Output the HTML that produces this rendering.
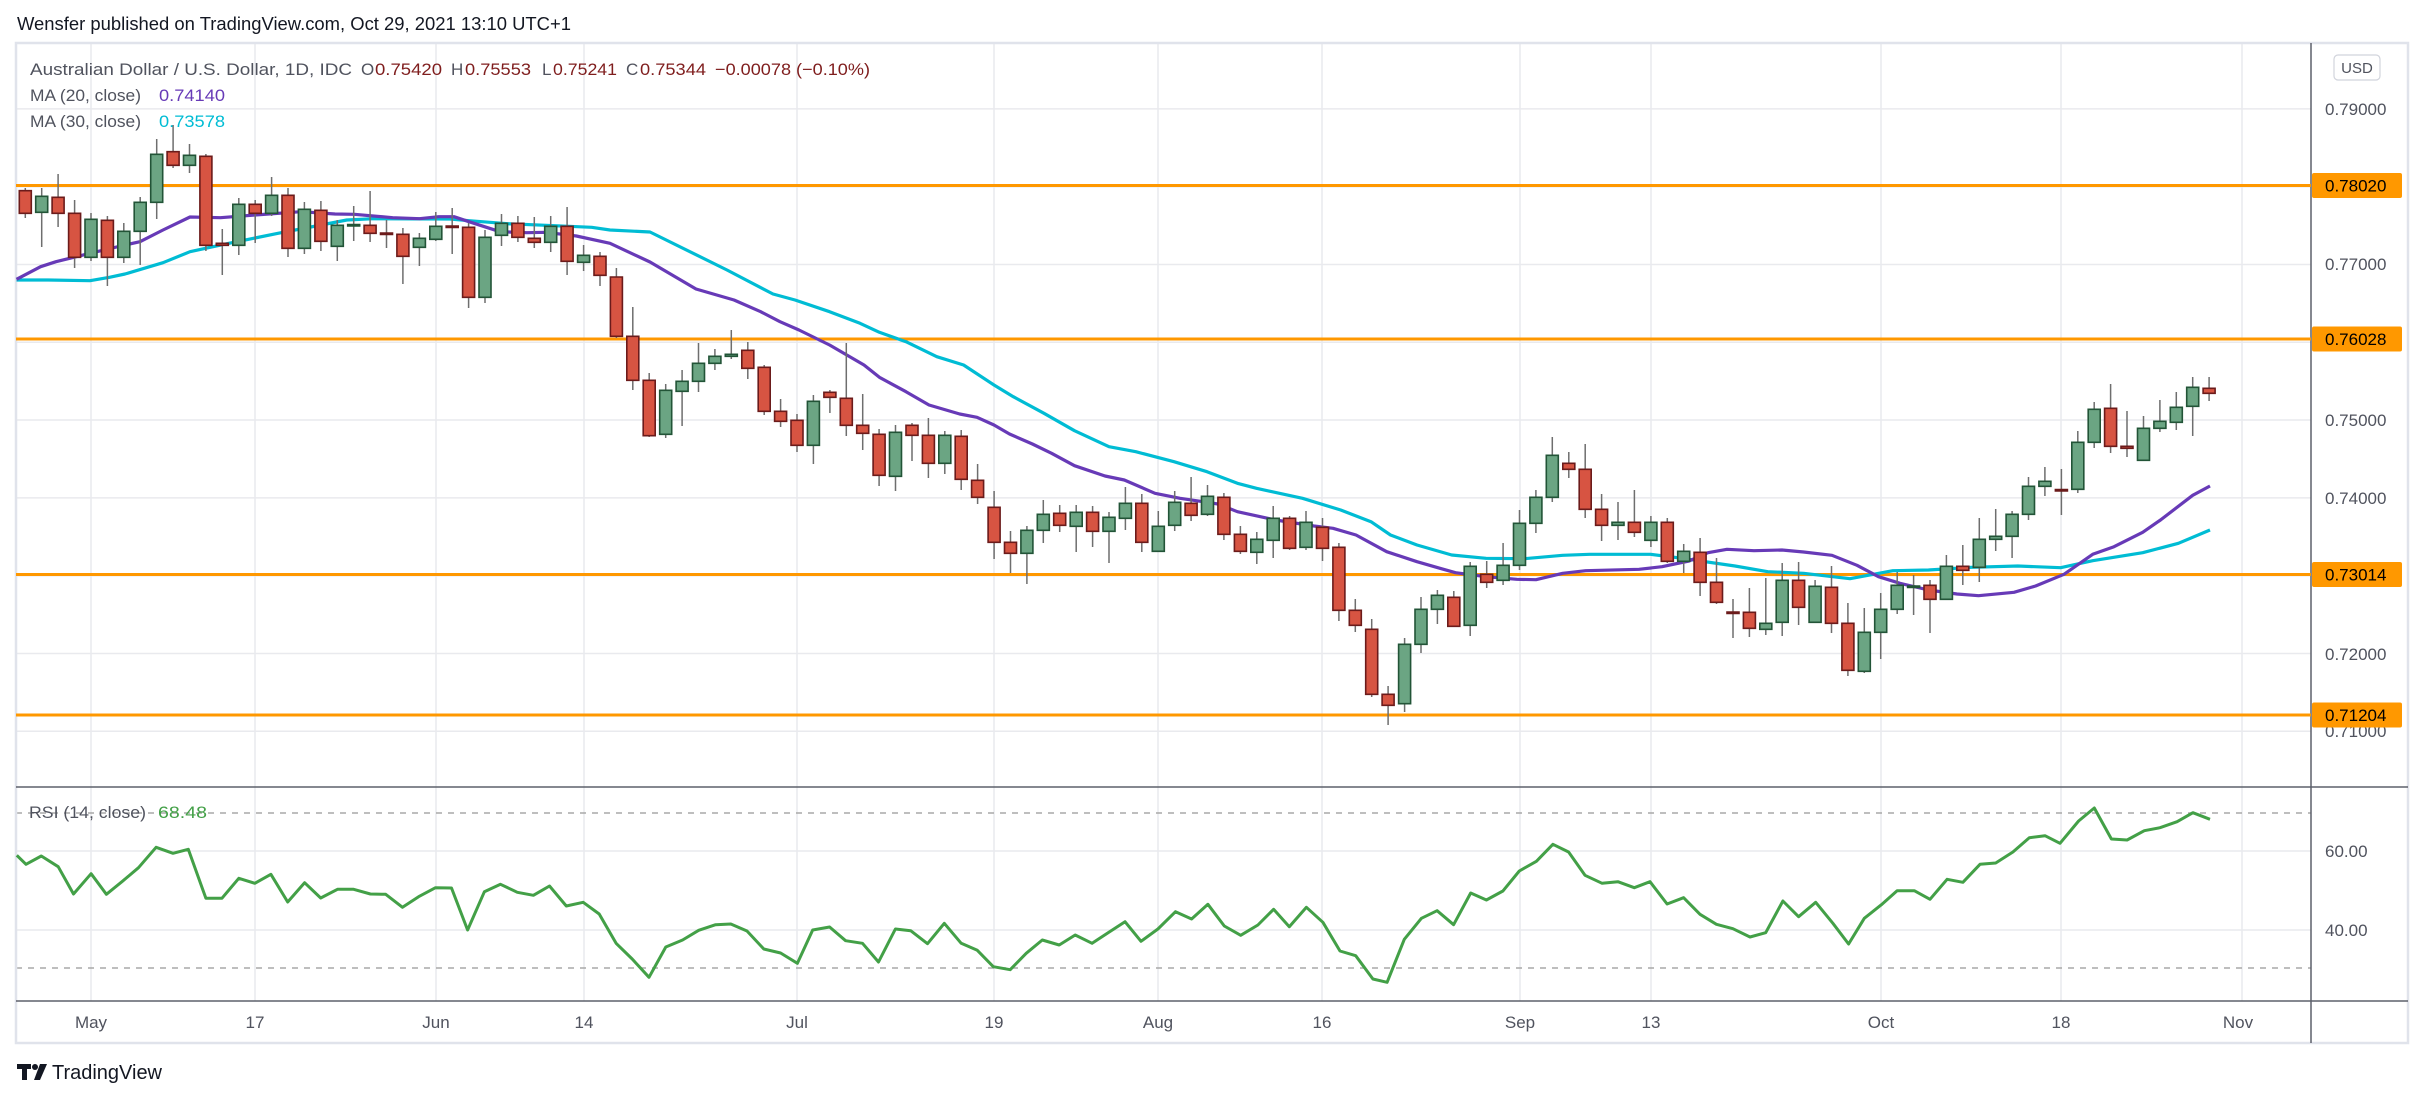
<!DOCTYPE html>
<html><head><meta charset="utf-8"><style>
html,body{margin:0;padding:0;background:#fff;}
svg{display:block;font-family:"Liberation Sans",sans-serif;}
</style></head><body>
<svg width="2425" height="1099" viewBox="0 0 2425 1099" xmlns="http://www.w3.org/2000/svg">
<rect width="2425" height="1099" fill="#fff"/>
<text x="17" y="30" font-size="18" fill="#131722" textLength="554" lengthAdjust="spacingAndGlyphs">Wensfer published on TradingView.com, Oct 29, 2021 13:10 UTC+1</text>
<g stroke="#e9eaee" stroke-width="1.5">
<line x1="16" x2="2311" y1="108.9" y2="108.9"/><line x1="16" x2="2311" y1="186.7" y2="186.7"/><line x1="16" x2="2311" y1="264.5" y2="264.5"/><line x1="16" x2="2311" y1="342.3" y2="342.3"/><line x1="16" x2="2311" y1="420" y2="420"/><line x1="16" x2="2311" y1="497.9" y2="497.9"/><line x1="16" x2="2311" y1="575.7" y2="575.7"/><line x1="16" x2="2311" y1="653.5" y2="653.5"/><line x1="16" x2="2311" y1="731.3" y2="731.3"/>
<line x1="16" x2="2311" y1="851" y2="851"/><line x1="16" x2="2311" y1="930" y2="930"/>
<line x1="91" x2="91" y1="43" y2="1001"/><line x1="255" x2="255" y1="43" y2="1001"/><line x1="436" x2="436" y1="43" y2="1001"/><line x1="584" x2="584" y1="43" y2="1001"/><line x1="797" x2="797" y1="43" y2="1001"/><line x1="994" x2="994" y1="43" y2="1001"/><line x1="1158" x2="1158" y1="43" y2="1001"/><line x1="1322" x2="1322" y1="43" y2="1001"/><line x1="1520" x2="1520" y1="43" y2="1001"/><line x1="1651" x2="1651" y1="43" y2="1001"/><line x1="1881" x2="1881" y1="43" y2="1001"/><line x1="2061" x2="2061" y1="43" y2="1001"/><line x1="2242" x2="2242" y1="43" y2="1001"/>
</g>
<g stroke="#a8a8a8" stroke-width="1.5" stroke-dasharray="6,6"><line x1="16" x2="2311" y1="813" y2="813"/><line x1="16" x2="2311" y1="968" y2="968"/></g>
<rect x="16" y="43" width="2392" height="1000" fill="none" stroke="#e0e3eb" stroke-width="2.5"/>
<line x1="2311" x2="2311" y1="43" y2="1043" stroke="#5d606b" stroke-width="1.5"/>
<line x1="16" x2="2408" y1="787" y2="787" stroke="#5d606b" stroke-width="1.5"/>
<line x1="16" x2="2408" y1="1001" y2="1001" stroke="#5d606b" stroke-width="1.5"/>
<g stroke="#ff9800" stroke-width="3"><line x1="16" x2="2311" y1="185.5" y2="185.5"/><line x1="16" x2="2311" y1="339" y2="339"/><line x1="16" x2="2311" y1="574.5" y2="574.5"/><line x1="16" x2="2311" y1="715" y2="715"/></g>
<polyline fill="none" stroke="#00bcd4" stroke-width="3.2" stroke-linejoin="round" points="16.5,280 48,280 90,280.7 109.5,277.3 125,274 163,262.7 190,251.7 224,244.3 278,233.3 316,226 346.8,220 373.6,218.7 450,219 469,220.7 507.5,223.7 546,225.3 591.7,227.3 610,230 650,232 727,270 773,294 795,300 829.6,311.7 860,323.3 879.4,332.3 906,341.7 936.8,356.7 963.6,365 994,385 1013.3,396.7 1044,413.3 1074.5,430.7 1109,446.7 1135.8,451.7 1174,461.7 1207,471.7 1237.4,483.3 1256.5,488.3 1302.5,498.3 1340.7,510 1371,521.7 1390.5,535 1417,545 1451.7,555 1486,558.3 1524.4,558.7 1562.7,555.3 1589.5,554.3 1650.7,554.3 1677.5,557.7 1735,566 1767.8,571.7 1803.6,573.3 1850,578.7 1892.8,570.7 1928.5,570 1971.3,567.3 2017.8,566 2060.6,567.7 2092.7,560.7 2142.7,552.7 2178.4,543.3 2210,530"/>
<polyline fill="none" stroke="#673ab7" stroke-width="3.2" stroke-linejoin="round" points="16.5,279.3 40.6,266.7 56,261.7 90,253.3 125,245 140,241.7 163,230 190,217 220.5,217.7 255,215 301,211.7 335,214 354.4,214.3 392.7,217.7 419.5,218.7 438.6,216.7 454,216.7 469,221.7 500,231.7 526.6,232.7 545.8,232.3 576.4,236 610,243.3 650,262 696,289 734,300 760.7,311.7 780,321.7 799,330 829.6,345 864,365 879.4,377.3 906,391.7 929,405 959.7,414 977,417.3 994,425 1009.5,434 1032.4,444 1051.6,453.3 1074.5,465.7 1105,476 1124.3,480 1155,493.3 1180,498.3 1203,501.7 1218,504 1237.4,511.7 1275.7,520 1314,526 1333,528.3 1356,535 1386.7,551.7 1417,561.7 1440,568.3 1455.5,572.7 1486,576.7 1516.8,579.3 1536,579.7 1562.7,573.3 1585.7,570.7 1639,569.3 1662,566.7 1689,561 1708,552.7 1727,549.3 1754,550.7 1782,550 1803.6,552 1832,555.3 1857,565.3 1878.5,576.7 1900,583.3 1928.5,590 1957,594 1978.5,595.7 2014,592.3 2035.6,586 2064,574.3 2092.7,554.3 2114,546.7 2142.7,532.3 2160.5,520 2192.7,495.3 2210,486"/>
<path stroke="#6e6e6e" stroke-width="1.5" fill="none" d="M25.3 188V218M41.7 188V247M58.1 174V227M74.6 200V268M91 213V261M107.4 216V286M123.8 223V263M140.2 197V265M156.7 139V219M173.1 125V168M189.5 144V173M205.9 154V251M222.3 229V275M238.8 198V255M255.2 200V243M271.6 177V216M288 188V257M304.4 202V254M320.9 201V251M337.3 220V261M353.7 206V241M370.1 191V242M386.5 220V248M402.9 228V284M419.4 233V266M435.8 212V241M452.2 208V254M468.6 223V308M485 230V303M501.5 214V246M517.9 216V242M534.3 217V248M550.7 216V252M567.1 207V275M583.6 245V271M600 252V286M616.4 268V338M632.8 307V390M649.2 373V437M665.7 384V438M682.1 370V426M698.5 343V392M714.9 349V370M731.3 330V359M747.8 342V379M764.2 365V415M780.6 399V427M797 414V452M813.4 395V464M829.9 390V413M846.3 343V436M862.7 394V450M879.1 429V486M895.5 425V491M912 423V461M928.4 418V478M944.8 431V474M961.2 430V490M977.6 464V504M994.1 491V559M1010.5 531V573M1026.9 526V584M1043.3 500V543M1059.7 505V532M1076.2 505V552M1092.6 506V547M1109 512V563M1125.4 487V530M1141.8 494V552M1158.3 511V552M1174.7 491V531M1191.1 477V521M1207.5 485V516M1223.9 493V540M1240.4 526V554M1256.8 532V564M1273.2 506V558M1289.6 516V550M1306 511V550M1322.5 518V561M1338.9 543V621M1355.3 599V632M1371.7 619V697M1388.1 686V725M1404.6 638V712M1421 597V653M1437.4 590V624M1453.8 591V627M1470.2 562V636M1486.7 561V588M1503.1 543V585M1519.5 510V570M1535.9 490V533M1552.3 437V502M1568.8 452V478M1585.2 444V518M1601.6 494V541M1618 502V540M1634.4 490V537M1650.9 516V547M1667.3 518V563M1683.7 544V573M1700.1 538V596M1716.5 558V604M1733 599V638M1749.4 588V637M1765.8 578V635M1782.2 563V636M1798.6 562V625M1815.1 580V622M1831.5 566V633M1847.9 603V676M1864.3 608V673M1880.7 593V659M1897.2 572V614M1913.6 575V615M1930 580V633M1946.4 555V599M1962.8 545V585M1979.3 518V582M1995.7 509V551M2012.1 511V558M2028.5 477V520M2044.9 467V496M2061.4 469V515M2077.8 431V493M2094.2 402V448M2110.6 384V453M2127 411V457M2143.5 416V460M2159.9 400V432M2176.3 392V430M2192.7 377V436M2209.1 377V401"/>
<path fill="#6ba583" stroke="#225437" stroke-width="1.6" d="M35.7 196.3h12V212.3h-12zM85 219.3h12V257.3h-12zM117.8 231.3h12V257.3h-12zM134.2 202.3h12V231.3h-12zM150.7 154.3h12V202.3h-12zM183.5 155.3h12V165.3h-12zM232.8 204.3h12V245.3h-12zM265.6 195.3h12V213.3h-12zM298.4 209.3h12V248.3h-12zM331.3 225.3h12V246.3h-12zM347.7 224.5h12V226h-12zM413.4 238.3h12V247.3h-12zM429.8 226.3h12V239.3h-12zM479 237.3h12V297.3h-12zM495.5 223.3h12V235.3h-12zM544.7 226.3h12V242.3h-12zM577.6 255.3h12V262.3h-12zM659.7 390.3h12V434.3h-12zM676.1 381.3h12V391.3h-12zM692.5 363.3h12V381.3h-12zM708.9 356.3h12V363.3h-12zM725.3 354.3h12V356.3h-12zM807.4 401.3h12V445.3h-12zM889.5 432.3h12V476.3h-12zM938.8 435.3h12V463.3h-12zM1020.9 530.3h12V553.3h-12zM1037.3 514.3h12V530.3h-12zM1070.2 512.3h12V526.3h-12zM1103 517.3h12V531.3h-12zM1119.4 503.3h12V518.3h-12zM1152.3 526.3h12V551.3h-12zM1168.7 502.3h12V525.3h-12zM1201.5 496.3h12V514.3h-12zM1250.8 539.3h12V552.3h-12zM1267.2 518.3h12V540.3h-12zM1300 522.3h12V547.3h-12zM1398.6 644.3h12V703.7h-12zM1415 609.3h12V644.3h-12zM1431.4 595.3h12V609.3h-12zM1464.2 566.3h12V625.3h-12zM1497.1 565.3h12V580.3h-12zM1513.5 523.3h12V565.3h-12zM1529.9 497.3h12V523.3h-12zM1546.3 455.3h12V497.3h-12zM1612 522.3h12V525.3h-12zM1644.9 522.3h12V540.3h-12zM1677.7 551.3h12V561.3h-12zM1759.8 623.3h12V629.3h-12zM1776.2 580.3h12V622.3h-12zM1809.1 586.3h12V622.3h-12zM1858.3 632.3h12V671.3h-12zM1874.7 609.3h12V632.3h-12zM1891.2 585.3h12V609.3h-12zM1907.6 586h12V587.5h-12zM1940.4 566.3h12V599.3h-12zM1973.3 539.3h12V567.3h-12zM1989.7 536.3h12V539.3h-12zM2006.1 514.3h12V536.3h-12zM2022.5 486.3h12V514.3h-12zM2038.9 481.3h12V486.3h-12zM2071.8 442.3h12V489.3h-12zM2088.2 409.3h12V442.3h-12zM2137.5 428.3h12V460.3h-12zM2153.9 421.3h12V428.3h-12zM2170.3 407.3h12V422.3h-12zM2186.7 387.3h12V406.3h-12z"/>
<path fill="#d75442" stroke="#6b1b1b" stroke-width="1.6" d="M19.3 190.7h12V213.3h-12zM52.1 197.3h12V213.3h-12zM68.6 213.3h12V257.3h-12zM101.4 220.3h12V257.3h-12zM167.1 151.7h12V165.3h-12zM199.9 156.3h12V245.3h-12zM216.3 243.3h12V245.3h-12zM249.2 204.3h12V213.3h-12zM282 195.3h12V248.3h-12zM314.9 210.3h12V241.3h-12zM364.1 225.3h12V233.3h-12zM380.5 233h12V234.5h-12zM396.9 234.3h12V256.3h-12zM446.2 226h12V227.5h-12zM462.6 227.3h12V297.3h-12zM511.9 223.3h12V237.3h-12zM528.3 238.3h12V242.3h-12zM561.1 226.3h12V261.3h-12zM594 256.3h12V275.3h-12zM610.4 277h12V336.3h-12zM626.8 336.3h12V380.3h-12zM643.2 380.3h12V435.7h-12zM741.8 350.3h12V368.3h-12zM758.2 367.3h12V411.3h-12zM774.6 411.3h12V421.3h-12zM791 420.3h12V445.3h-12zM823.9 392.3h12V397.3h-12zM840.3 398.3h12V425.3h-12zM856.7 425.3h12V433.3h-12zM873.1 434.3h12V475.3h-12zM906 425.3h12V435.3h-12zM922.4 435.3h12V463.3h-12zM955.2 436.3h12V479.3h-12zM971.6 480.3h12V497.3h-12zM988.1 507.3h12V542.3h-12zM1004.5 542.3h12V553.3h-12zM1053.7 513.3h12V525.3h-12zM1086.6 512.3h12V531.3h-12zM1135.8 503.3h12V542.3h-12zM1185.1 503.3h12V515.3h-12zM1217.9 497.3h12V534.3h-12zM1234.4 534.3h12V551.3h-12zM1283.6 518.3h12V548.3h-12zM1316.5 527.3h12V548.3h-12zM1332.9 547.3h12V610.3h-12zM1349.3 610.3h12V625.3h-12zM1365.7 629.3h12V694.3h-12zM1382.1 694.3h12V705.3h-12zM1447.8 597.3h12V626.3h-12zM1480.7 574.3h12V582.3h-12zM1562.8 463.3h12V469.3h-12zM1579.2 469.3h12V509.3h-12zM1595.6 509.3h12V525.3h-12zM1628.4 522.3h12V532.3h-12zM1661.3 522.3h12V561.3h-12zM1694.1 552.3h12V582.3h-12zM1710.5 582.3h12V602.3h-12zM1727 612h12V613.5h-12zM1743.4 612.3h12V628.3h-12zM1792.6 580.3h12V607.3h-12zM1825.5 587.3h12V623.3h-12zM1841.9 623.3h12V670.3h-12zM1924 585.3h12V599.3h-12zM1956.8 566.3h12V570.3h-12zM2055.4 489.5h12V491h-12zM2104.6 408.3h12V446.3h-12zM2121 446.3h12V448.3h-12zM2203.1 388.3h12V393.3h-12z"/>
<polyline fill="none" stroke="#43a047" stroke-width="3" stroke-linejoin="round" points="16.8,855.3 26,864.3 41.3,856 58.2,866.7 73.5,894 91.1,873.7 106.4,894.3 122.4,881.3 138.5,867.7 156.1,847.3 173,853.3 188.3,849.3 205.9,898.3 221.9,898.3 238.8,878.3 254.8,883.3 270.9,874.3 287.7,902 304.6,882.7 320.7,898 337.5,889.3 353.6,889.3 370.4,894 385.7,894.3 402.5,907.3 418.6,896.7 435.5,887.7 451.5,888 467.6,930 484.4,891.7 500.5,884.3 517.3,892.3 533.4,895.3 549.5,886 566.3,906 583.2,902.3 599.2,914 616.1,943.3 632.2,959 649,977.3 665.8,947 682.6,940 698.7,930.3 715.6,924.7 730.8,924 747,931 763.8,949 780.6,953 797.4,963.3 812.7,930 829.6,927 845.6,940.7 862.5,943.3 878.5,962 895.4,929 910.7,930.7 927.5,943.7 944.3,923.3 961.2,943.3 977.3,950.3 993.3,966.7 1010.2,969.7 1026.2,953.3 1042.3,940 1059.2,945 1075.2,935 1092.1,943.3 1108.1,932.7 1125,921.7 1141,941.3 1157.9,929 1175.5,911.7 1191.6,919 1207.9,904.3 1224.3,926 1240.7,935.3 1257.9,925 1273.6,909.3 1289.3,926.7 1306.4,907.3 1322.9,922.3 1340,951 1355.7,955.7 1372.9,979 1387.1,982.3 1404.3,939.3 1421.4,918.3 1437.1,910.7 1453.6,924.7 1470.7,893 1486.4,900 1502.9,891 1519.3,871 1536.4,861.3 1552.9,844.3 1568.6,852 1585,875.3 1602.1,883.3 1617.9,881.7 1634.3,887.7 1650,881.7 1667.1,904 1683.6,897.7 1700,914.3 1716.4,924.3 1732.9,928.7 1750,937 1765.7,932.7 1782.9,901 1798.6,916.7 1815.7,902.3 1832.9,923.3 1848.6,944 1864.3,918.3 1881.4,904.7 1897.1,890.7 1914.3,890.7 1930,899.3 1947.1,879.3 1962.9,882.3 1980,864.3 1995.7,863 2012.9,852 2029.3,837.7 2045,835.7 2060,843.3 2078.6,821 2094.3,808 2111.4,839 2127.1,840 2144.3,830.7 2160,827.7 2177.1,821.7 2192.9,812.7 2210,819.3"/>
<g font-size="17">
<text x="30" y="75" fill="#50535e" textLength="322" lengthAdjust="spacingAndGlyphs">Australian Dollar / U.S. Dollar, 1D, IDC</text>
<text x="361" y="75" fill="#50535e">O</text><text x="375" y="75" fill="#7f1d1d" textLength="67" lengthAdjust="spacingAndGlyphs">0.75420</text>
<text x="451" y="75" fill="#50535e">H</text><text x="465" y="75" fill="#7f1d1d" textLength="66" lengthAdjust="spacingAndGlyphs">0.75553</text>
<text x="542" y="75" fill="#50535e">L</text><text x="553" y="75" fill="#7f1d1d" textLength="64" lengthAdjust="spacingAndGlyphs">0.75241</text>
<text x="626" y="75" fill="#50535e">C</text><text x="640" y="75" fill="#7f1d1d" textLength="66" lengthAdjust="spacingAndGlyphs">0.75344</text>
<text x="715" y="75" fill="#7f1d1d" textLength="155" lengthAdjust="spacingAndGlyphs">−0.00078 (−0.10%)</text>
<text x="30" y="101" fill="#50535e" textLength="111" lengthAdjust="spacingAndGlyphs">MA (20, close)</text><text x="159" y="101" fill="#673ab7" textLength="66" lengthAdjust="spacingAndGlyphs">0.74140</text>
<text x="30" y="127" fill="#50535e" textLength="111" lengthAdjust="spacingAndGlyphs">MA (30, close)</text><text x="159" y="127" fill="#00bcd4" textLength="66" lengthAdjust="spacingAndGlyphs">0.73578</text>
<text x="29" y="818" fill="#50535e" textLength="117" lengthAdjust="spacingAndGlyphs">RSI (14, close)</text><text x="158" y="818" fill="#43a047" textLength="49" lengthAdjust="spacingAndGlyphs">68.48</text>
</g>
<rect x="2334" y="55" width="46" height="25" rx="4" fill="#fff" stroke="#d1d4dc" stroke-width="1.2"/>
<text x="2357" y="73" font-size="15" fill="#50535e" text-anchor="middle">USD</text>
<g font-size="17" fill="#50535e">
<text x="2325" y="115">0.79000</text><text x="2325" y="270">0.77000</text><text x="2325" y="426">0.75000</text><text x="2325" y="504">0.74000</text><text x="2325" y="660">0.72000</text><text x="2325" y="737">0.71000</text>
<text x="2325" y="857">60.00</text><text x="2325" y="936">40.00</text>
</g>
<g fill="#ff9800"><rect x="2312" y="173" width="90" height="25" rx="2"/><rect x="2312" y="326.5" width="90" height="25" rx="2"/><rect x="2312" y="562" width="90" height="25" rx="2"/><rect x="2312" y="702.5" width="90" height="25" rx="2"/></g>
<g font-size="17" fill="#000"><text x="2325" y="191.5">0.78020</text><text x="2325" y="345">0.76028</text><text x="2325" y="580.5">0.73014</text><text x="2325" y="721">0.71204</text></g>
<g font-size="17" fill="#50535e" text-anchor="middle">
<text x="91" y="1028">May</text><text x="255" y="1028">17</text><text x="436" y="1028">Jun</text><text x="584" y="1028">14</text><text x="797" y="1028">Jul</text><text x="994" y="1028">19</text><text x="1158" y="1028">Aug</text><text x="1322" y="1028">16</text><text x="1520" y="1028">Sep</text><text x="1651" y="1028">13</text><text x="1881" y="1028">Oct</text><text x="2061" y="1028">18</text><text x="2238" y="1028">Nov</text>
</g>
<g fill="#131722"><rect x="17" y="1064" width="14" height="5"/><rect x="22" y="1064" width="5" height="16"/><circle cx="35" cy="1067" r="3"/><polygon points="40,1064 47,1064 40,1080 34,1080"/></g>
<text x="52" y="1079" font-size="20" fill="#131722" textLength="110" lengthAdjust="spacingAndGlyphs">TradingView</text>
</svg>
</body></html>
